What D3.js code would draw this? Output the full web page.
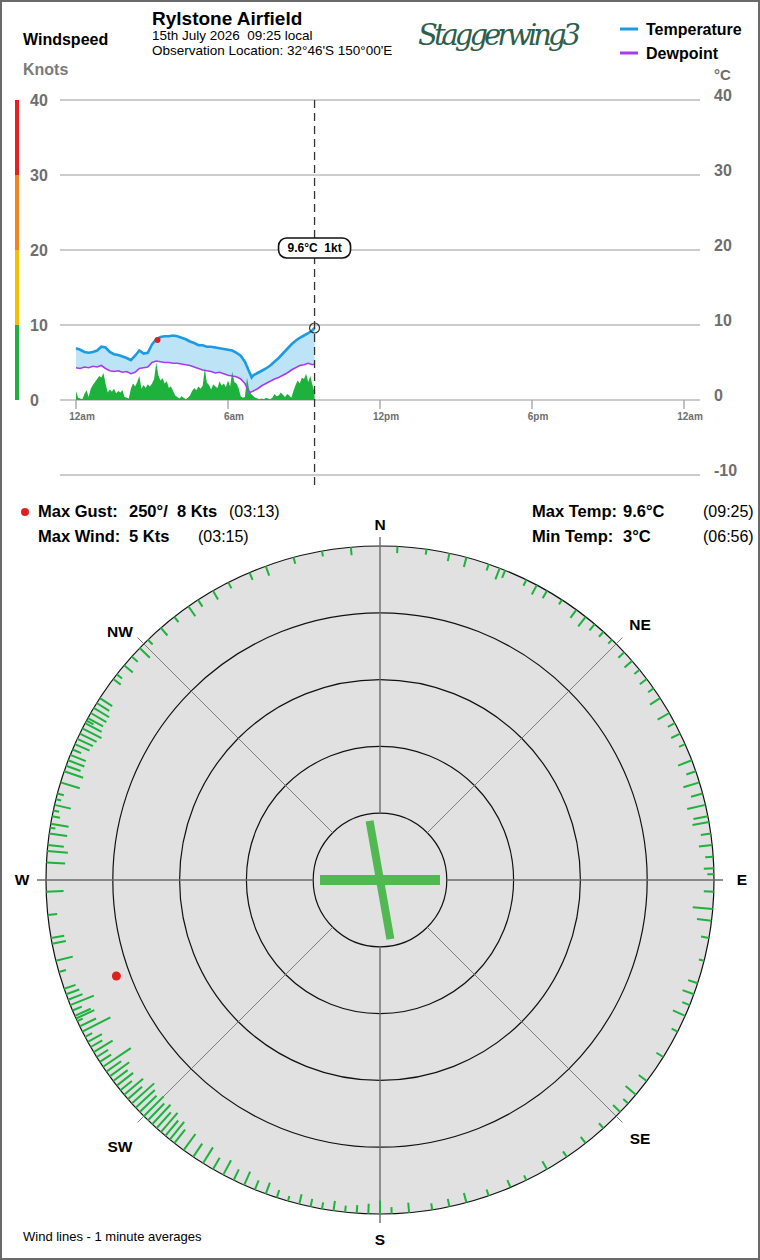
<!DOCTYPE html>
<html>
<head>
<meta charset="utf-8">
<script src="https://cdn.jsdelivr.net/npm/d3@7"></script>
<style>
  body { margin: 0; background: #fff; }
  svg { display: block; font-family: "Liberation Sans", Arial, sans-serif; }
</style>
</head>
<body>
<div id="chart"></div>
<script>
// ---- data ----
const obsTimes = ['00:00','00:10','00:20','00:30','00:40','00:50','01:00','01:10','01:20','01:30','01:40','01:50',
  '02:00','02:10','02:20','02:30','02:40','02:50','03:00','03:10','03:20','03:30','03:40','03:50',
  '04:00','04:10','04:20','04:30','04:40','04:50','05:00','05:10','05:20','05:30','05:40','05:50',
  '06:00','06:10','06:20','06:30','06:40','06:50','06:56','07:00','07:10','07:20','07:30','07:40','07:50',
  '08:00','08:10','08:20','08:30','08:40','08:50','09:00','09:10','09:20','09:25'];
const temps = [6.9,6.7,6.4,6.3,6.4,6.6,7.1,7.0,6.4,6.1,6.0,5.8,
  5.6,5.3,5.9,6.6,6.2,6.3,7.4,8.1,8.4,8.5,8.5,8.6,
  8.5,8.3,8.1,7.8,7.6,7.3,7.3,7.1,7.1,7.0,6.9,6.8,
  6.7,6.6,6.3,5.9,5.1,3.8,3.0,3.3,3.6,3.9,4.2,4.6,5.1,
  5.6,6.2,6.8,7.4,7.9,8.3,8.6,8.9,9.3,9.6];
const dewpoints = [4.3,4.2,4.4,4.3,4.5,4.4,4.6,4.2,3.9,3.8,3.9,3.7,
  3.8,3.5,3.7,4.2,4.3,4.4,5.0,5.2,5.1,5.0,5.0,4.9,
  4.9,4.8,4.7,4.6,4.4,4.2,4.0,3.9,3.8,3.6,3.7,3.5,
  3.3,3.2,3.1,2.8,2.2,1.0,1.1,1.2,1.5,1.9,2.2,2.5,2.8,
  3.0,3.3,3.6,4.0,4.3,4.6,4.7,4.9,4.7,4.8];

// wind speed (kts), 5 minute steps from midnight
const windSpeed = [
  1.2,0.3,0.2,0.1,0.8,1.3,0.4,1.5,2.0,2.4,2.8,3.2,
  3.0,3.6,2.2,1.0,1.4,1.1,1.5,0.9,1.2,1.0,1.3,0.4,
  0.3,0.2,1.5,2.2,1.8,2.4,3.2,1.5,2.0,1.6,2.1,1.8,
  2.2,2.8,5.0,3.3,2.6,2.9,2.2,2.5,1.6,1.8,1.2,0.6,
  0.4,0.2,0.5,0.3,0.1,0.3,0.6,1.2,1.6,1.3,1.8,1.5,
  1.9,4.2,2.3,2.0,1.4,2.1,1.8,1.6,2.5,1.9,2.2,1.7,
  2.6,1.8,3.8,2.4,2.2,1.6,0.5,0.3,0.4,3.0,1.4,0.8,
  0.5,0.3,0.2,0.1,0.2,0.1,0.3,0.2,0.1,0.3,0.8,0.5,
  0.6,1.0,0.7,0.4,0.8,0.6,0.3,1.2,2.0,2.6,2.2,3.0,
  2.8,3.5,2.4,3.2,2.0,1.0];

// max gust
const gust = { time: '03:13', dir: 250, kts: 8 };

// wind lines on the rose: [direction deg, kts]
const windLines = [
  [3,1.0],[8,0.8],[12,1.2],[15,1.5],[19,1.0],[21,1.8],[22,1.2],[26,1.0],[28,1.6],[30,1.3],[33,0.8],[36,1.5],[38,1.8],[40,1.2],[42,1.0],[44,0.8],
  [47,1.2],[49,1.5],[51,1.0],[53,1.3],[55,1.0],[57,1.8],[60,2.0],[62,1.2],[64,1.5],[66,1.0],[69,2.2],[71,1.5],[73,2.5],[75,1.8],[77,2.8],[79,2.2],[80,2.5],[82,1.5],[84,2.0],[86,1.2],[88,1.5],[89,1.0],
  [92,1.5],[95,3.0],[97,2.2],[100,1.2],[104,0.8],[108,1.5],[110,1.8],[112,1.2],[114,2.0],[117,1.0],[122,1.2],[127,1.5],[130,2.0],[132,1.0],[134,1.5],
  [138,1.0],[142,1.2],[146,1.0],[150,1.4],[154,0.8],[157,1.2],[161,1.0],[165,1.5],[168,1.2],[171,1.0],[175,1.5],[178,1.0],[180,2.0],
  [182,1.5],[184,1.2],[186,1.0],[188,1.5],[190,1.0],[192,1.2],[194,1.5],[196,0.8],[198,1.2],[200,1.8],[202,1.5],[204,2.2],[206,1.8],[208,2.5],[210,2.0],[212,2.8],[214,2.4],[216,3.0],[218,2.6],[219,3.4],[220,3.0],[221,3.8],[222,3.2],[223,4.0],[224,3.5],[225,4.2],
  [226,3.5],[227,3.9],[228,4.5],[229,2.8],[230,3.7],[231,2.2],[232,3.1],[233,2.7],[234,3.6],[235,2.7],[236,5.0],[237,2.0],[238,2.0],[239,3.3],[240,2.0],[241,2.4],[242,1.2],[243,4.7],[244,2.7],[245,0.9],[245.5,3.0],[246,2.6],[247,1.5],[248,3.8],[249,2.3],[250,2.1],[251,1.8],[254,1.1],[256,2.6],[259,2.1],[260,2.0],[264,1.4],[268,2.6],
  [273,2.8],[275,3.1],[276,2.4],[278,2.7],[279,0.8],[279.7,2.7],[281,1.2],[282,0.9],[283,2.5],[284,0.8],[285,1.0],[287,3.0],[289,3.0],[290,2.3],[291,2.6],[292,2.5],[293,1.4],[294,2.4],[295,2.6],[296,2.8],[297,3.2],[298,2.8],[298.5,1.2],[299,2.6],[300,2.7],[301,2.7],[302,2.2],[303,2.2],[307,1.4],[308,1.0],[310,1.7],[312,1.2],[314,2.1],[316,1.0],
  [319,1.5],[322,1.0],[325,1.8],[327,1.2],[330,1.5],[333,1.0],[337,1.2],[340,1.5],[345,1.0],[350,0.8],[355,1.2]
];

// runways drawn in the centre (heading deg)
const runways = [90, 170];

const windBands = [0, 10, 20, 30, 40];
const bandColors = ['#1eb040', '#f2c200', '#f58220', '#e42020'];
const tempTicks = [-10, 0, 10, 20, 30, 40];
const windTicks = [0, 10, 20, 30, 40];
const timeTicks = [0, 360, 720, 1080, 1440];
const timeLabels = ['12am', '6am', '12pm', '6pm', '12am'];
const compass = ['N', 'NE', 'E', 'SE', 'S', 'SW', 'W', 'NW'];

const nowTime = '09:25';

// ---- helpers ----
const toMin = s => { const p = s.split(':'); return +p[0] * 60 + +p[1]; };

const W = 760, H = 1260;
const svg = d3.select('#chart').append('svg')
  .attr('width', W).attr('height', H);

svg.append('rect')
  .attr('x', 1).attr('y', 1).attr('width', W - 2).attr('height', H - 2)
  .attr('fill', '#fff').attr('stroke', '#6a6a6a').attr('stroke-width', 2);

// ---- header ----
svg.append('text').attr('x', 23).attr('y', 45).attr('font-size', 16).attr('font-weight', 'bold').text('Windspeed');
svg.append('text').attr('x', 23).attr('y', 75).attr('font-size', 16).attr('font-weight', 'bold').attr('fill', '#7a7a7a').text('Knots');
svg.append('text').attr('x', 152).attr('y', 25).attr('font-size', 19).attr('font-weight', 'bold').text('Rylstone Airfield');
svg.append('text').attr('x', 152).attr('y', 40).attr('font-size', 13.5).style('white-space', 'pre').text('15th July 2026  09:25 local');
svg.append('text').attr('x', 152).attr('y', 55).attr('font-size', 13.5).text("Observation Location: 32°46'S 150°00'E");
svg.append('text').attr('x', 418).attr('y', 45).attr('font-size', 29)
  .attr('font-family', '"DejaVu Serif", serif').attr('font-style', 'italic')
  .attr('fill', '#2f5e4c').attr('textLength', 163).text('Staggerwing3');

// legend
const legend = [{ name: 'Temperature', color: '#1c9be3' }, { name: 'Dewpoint', color: '#a63cf0' }];
const lg = svg.selectAll('.lg').data(legend).enter().append('g')
  .attr('transform', (d, i) => `translate(620,${29 + i * 24})`);
lg.append('line').attr('x1', 0).attr('x2', 18).attr('stroke', d => d.color).attr('stroke-width', 3);
lg.append('text').attr('x', 26).attr('y', 6).attr('font-size', 16).attr('font-weight', 'bold').text(d => d.name);

// ---- time chart ----
const x = d3.scaleLinear().domain([0, 1440]).range([76, 684]);
const yWind = d3.scaleLinear().domain([0, 40]).range([400, 100]);
const yTemp = d3.scaleLinear().domain([-10, 40]).range([475, 100]);

// grid
svg.append('g').selectAll('line').data(tempTicks).enter().append('line')
  .attr('x1', 60).attr('x2', 700)
  .attr('y1', d => yTemp(d)).attr('y2', d => yTemp(d))
  .attr('stroke', '#9a9a9a').attr('stroke-width', 1.2);

// left axis labels
svg.append('g').selectAll('text').data(windTicks).enter().append('text')
  .attr('x', 30).attr('y', d => yWind(d) + 6)
  .attr('font-size', 16).attr('font-weight', 'bold').attr('fill', '#6e6e6e')
  .text(d => d);

// right axis labels
svg.append('text').attr('x', 714).attr('y', 80).attr('font-size', 15).attr('font-weight', 'bold').attr('fill', '#6e6e6e').text('°C');
svg.append('g').selectAll('text').data(tempTicks).enter().append('text')
  .attr('x', 714).attr('y', d => yTemp(d) + 1)
  .attr('font-size', 16).attr('font-weight', 'bold').attr('fill', '#6e6e6e')
  .text(d => d);

// windspeed colour bar
svg.append('g').selectAll('rect').data(bandColors).enter().append('rect')
  .attr('x', 15).attr('width', 4)
  .attr('y', (d, i) => yWind(windBands[i + 1]))
  .attr('height', (d, i) => yWind(windBands[i]) - yWind(windBands[i + 1]))
  .attr('fill', d => d);

// time ticks
const tt = svg.append('g');
tt.selectAll('line').data(timeTicks).enter().append('line')
  .attr('x1', d => x(d)).attr('x2', d => x(d))
  .attr('y1', 400).attr('y2', 409)
  .attr('stroke', '#9a9a9a').attr('stroke-width', 1.2);
tt.selectAll('text').data(timeTicks).enter().append('text')
  .attr('x', d => x(d) + 6).attr('y', 420)
  .attr('text-anchor', 'middle').attr('font-size', 10).attr('font-weight', 'bold').attr('fill', '#6e6e6e')
  .text((d, i) => timeLabels[i]);

// temperature band
const tData = obsTimes.map((t, i) => ({ m: toMin(t), t: temps[i], d: dewpoints[i] }));
svg.append('path').datum(tData)
  .attr('d', d3.area().x(d => x(d.m)).y0(d => yTemp(d.d)).y1(d => yTemp(d.t)))
  .attr('fill', '#bde3f6');

// wind area
const wData = windSpeed.map((v, i) => ({ m: i * 5, v: v }));
svg.append('path').datum(wData)
  .attr('d', d3.area().x(d => x(d.m)).y0(yWind(0)).y1(d => yWind(d.v)))
  .attr('fill', '#1db23c');

svg.append('path').datum(tData)
  .attr('d', d3.line().x(d => x(d.m)).y(d => yTemp(d.d)))
  .attr('fill', 'none').attr('stroke', '#a63cf0').attr('stroke-width', 1.6);
svg.append('path').datum(tData)
  .attr('d', d3.line().x(d => x(d.m)).y(d => yTemp(d.t)))
  .attr('fill', 'none').attr('stroke', '#1c9be3').attr('stroke-width', 2.6);

// gust marker
svg.append('circle').attr('cx', x(toMin(gust.time))).attr('cy', yWind(gust.kts)).attr('r', 3).attr('fill', '#e02020');

// current time cursor
const nowX = x(toMin(nowTime));
svg.append('line').attr('x1', nowX).attr('x2', nowX).attr('y1', 100).attr('y2', 486)
  .attr('stroke', '#333').attr('stroke-width', 1.3).attr('stroke-dasharray', '8,5');
const last = tData[tData.length - 1];
svg.append('circle').attr('cx', nowX).attr('cy', yTemp(last.t)).attr('r', 5)
  .attr('fill', 'none').attr('stroke', '#333').attr('stroke-width', 1.2);
const lab = svg.append('g').attr('transform', `translate(${nowX},${yWind(20) - 2})`);
lab.append('rect').attr('x', -36).attr('y', -10).attr('width', 72).attr('height', 20).attr('rx', 8)
  .attr('fill', '#fff').attr('stroke', '#111').attr('stroke-width', 1.6);
lab.append('text').attr('y', 4).attr('text-anchor', 'middle').attr('font-size', 12).attr('font-weight', 'bold')
  .style('white-space', 'pre').text(`${last.t}°C  ${windSpeed[windSpeed.length - 1]}kt`);

// ---- stats ----
svg.append('circle').attr('cx', 25).attr('cy', 512).attr('r', 4).attr('fill', '#e02020');
const stats = [
  { x: 38, y: 517, t: 'Max Gust:', b: true }, { x: 129, y: 517, t: '250°/  8 Kts', b: true }, { x: 229, y: 517, t: '(03:13)', b: false },
  { x: 38, y: 542, t: 'Max Wind:', b: true }, { x: 129, y: 542, t: '5 Kts', b: true }, { x: 198, y: 542, t: '(03:15)', b: false },
  { x: 532, y: 517, t: 'Max Temp:', b: true }, { x: 623, y: 517, t: '9.6°C', b: true }, { x: 703, y: 517, t: '(09:25)', b: false },
  { x: 532, y: 542, t: 'Min Temp:', b: true }, { x: 623, y: 542, t: '3°C', b: true }, { x: 703, y: 542, t: '(06:56)', b: false }
];
svg.append('g').selectAll('text').data(stats).enter().append('text')
  .attr('x', d => d.x).attr('y', d => d.y).attr('font-size', d => d.b ? 16.5 : 16)
  .style('white-space', 'pre')
  .attr('font-weight', d => d.b ? 'bold' : 'normal').text(d => d.t);

// ---- wind rose ----
const cx = 380, cy = 880, R = 334;
const r = d3.scaleLinear().domain([0, 50]).range([R, 0]);
const rose = svg.append('g').attr('transform', `translate(${cx},${cy})`);
const rad = a => (a - 90) * Math.PI / 180;

rose.append('circle').attr('r', R).attr('fill', '#e1e1e1').attr('stroke', '#111').attr('stroke-width', 1.2);
rose.selectAll('.ring').data([10, 20, 30, 40]).enter().append('circle')
  .attr('r', d => r(d)).attr('fill', 'none').attr('stroke', '#111').attr('stroke-width', 1.2);

const spokes = d3.range(0, 360, 45);
rose.selectAll('.spoke').data(spokes).enter().append('line')
  .attr('x1', d => r(40) * Math.cos(rad(d))).attr('y1', d => r(40) * Math.sin(rad(d)))
  .attr('x2', d => 343 * Math.cos(rad(d))).attr('y2', d => 343 * Math.sin(rad(d)))
  .attr('stroke', d => d % 90 === 0 ? '#6a6a6a' : '#7c7c7c')
  .attr('stroke-width', d => d % 90 === 0 ? 1.4 : 1);

// wind lines
rose.selectAll('.wl').data(windLines).enter().append('line')
  .attr('x1', d => R * Math.cos(rad(d[0]))).attr('y1', d => R * Math.sin(rad(d[0])))
  .attr('x2', d => r(d[1]) * Math.cos(rad(d[0]))).attr('y2', d => r(d[1]) * Math.sin(rad(d[0])))
  .attr('stroke', '#1db23c').attr('stroke-width', 2);

// runways
rose.selectAll('.rw').data(runways).enter().append('line')
  .attr('x1', d => 60 * Math.cos(rad(d))).attr('y1', d => 60 * Math.sin(rad(d)))
  .attr('x2', d => -60 * Math.cos(rad(d))).attr('y2', d => -60 * Math.sin(rad(d)))
  .attr('stroke', '#52b852').attr('stroke-width', d => d === 90 ? 10 : 8);

// gust dot
rose.append('circle')
  .attr('cx', r(gust.kts) * Math.cos(rad(gust.dir))).attr('cy', r(gust.kts) * Math.sin(rad(gust.dir)))
  .attr('r', 4.5).attr('fill', '#e02020');

// compass labels
const labR = { N: 355, S: 360, E: 362, W: 358 };
const labDy = { NE: 3, SE: 1, SW: 9, NW: 10 };
rose.selectAll('.cl').data(compass).enter().append('text')
  .attr('x', (d, i) => (labR[d] || 365) * Math.cos(rad(i * 45)) + (d.length === 2 ? (i * 45 < 180 ? 2 : -2) : 0))
  .attr('y', (d, i) => (labR[d] || 365) * Math.sin(rad(i * 45)) + 5 + (labDy[d] || 0))
  .attr('text-anchor', 'middle').attr('font-size', 15.5).attr('font-weight', 'bold')
  .text(d => d);

svg.append('text').attr('x', 23).attr('y', 1241).attr('font-size', 13).text('Wind lines - 1 minute averages');
</script>
</body>
</html>
